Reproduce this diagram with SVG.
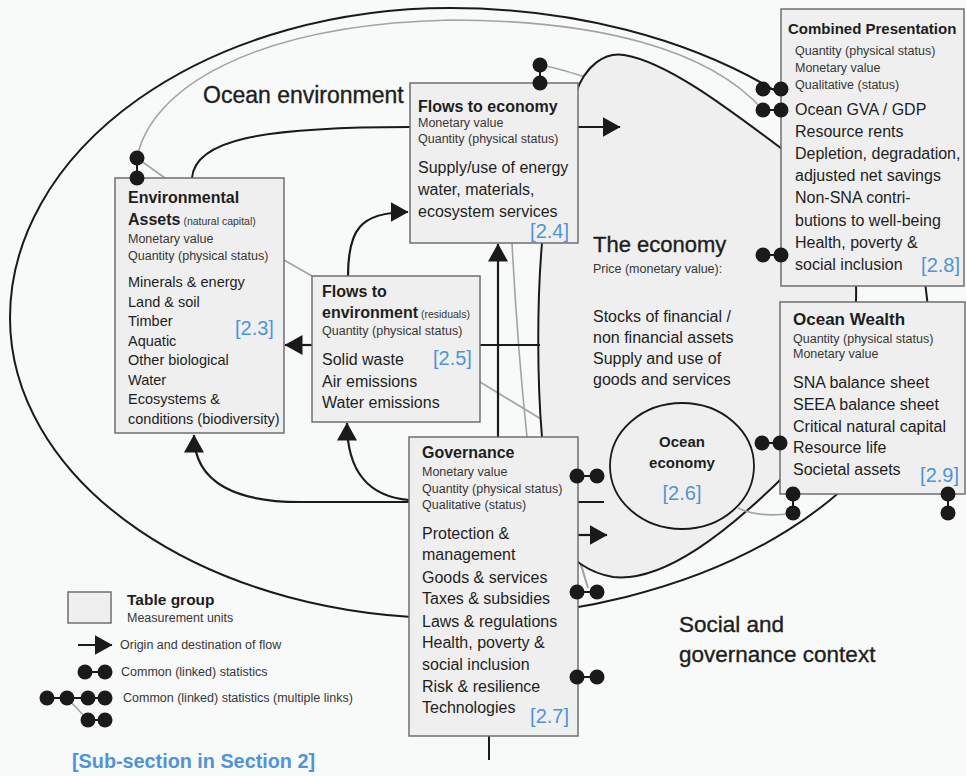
<svg xmlns="http://www.w3.org/2000/svg" width="966" height="776" viewBox="0 0 966 776">
<defs>
<marker id="arrow" markerUnits="userSpaceOnUse" markerWidth="18" markerHeight="20" refX="17.5" refY="10" orient="auto">
<path d="M0,0 L18,10 L0,20 Z" fill="#1a1a1a"/>
</marker>
<style>
text{font-family:'Liberation Sans',Arial,Helvetica,sans-serif;fill:#1e1e1e}
.box{fill:#efefef;stroke:#6f6f6f;stroke-width:1.5}
.h{font-weight:bold;font-size:16px}
.u{font-size:12.5px;fill:#363636}
.l{font-size:16px}
.s{font-size:14.5px}
.sm{font-size:10.5px;font-weight:normal;fill:#363636}
.ref{font-size:20px;fill:#4f94d6}
.big{font-size:22.5px;stroke:#1e1e1e;stroke-width:0.35}
.ln{fill:none;stroke:#1a1a1a;stroke-width:2}
.gr{fill:none;stroke:#a3a3a3;stroke-width:1.6}
.fl{fill:none;stroke:#1a1a1a;stroke-width:2.2;marker-end:url(#arrow)}
.dot{fill:#1a1a1a}
.blob{fill:#efefef;stroke:#1a1a1a;stroke-width:2}
</style>
</defs>

<rect x="0" y="0" width="966" height="776" fill="#f8f9f9"/>

<!-- ocean environment boundary -->
<path id="ocean-environment" class="ln" d="M10,318 A440,310 0 0 1 450,8 A478,310 0 0 1 928,318 A478,300 0 0 1 450,618 A440,300 0 0 1 10,318 Z"/>

<!-- links that run underneath the economy -->
<g id="hidden-links">
<path class="gr" d="M540,65 C560,68 575,74 600,82"/>
<path class="gr" d="M480,382 L574,439 L576,550 L588,588"/>
<path class="gr" d="M527,437 C545,490 568,535 580,560 L588,588"/>
</g>

<!-- the economy -->
<g id="economy">
<path class="blob" d="M542,437 C537,380 537,300 542,243 L575,95 C585,65 605,52 624,55 C668,62 730,110 790,155 C840,195 858,240 856,300 C854,380 818,445 775,485 C730,528 665,583 613,577 C590,573 570,560 558,540 C548,515 545,470 542,437 Z"/>
<text x="593" y="252" class="big" style="font-size:22px">The economy</text>
<text x="593" y="273" class="u">Price (monetary value):</text>
<text x="593" y="322" class="l">Stocks of financial /</text>
<text x="593" y="343" class="l">non financial assets</text>
<text x="593" y="364" class="l">Supply and use of</text>
<text x="593" y="385" class="l">goods and services</text>
</g>

<!-- ocean economy -->
<g id="ocean-economy">
<ellipse cx="682" cy="466" rx="72" ry="63" fill="#efefef" stroke="#1a1a1a" stroke-width="1.8"/>
<text x="682" y="447" text-anchor="middle" style="font-weight:bold;font-size:15px">Ocean</text>
<text x="682" y="468" text-anchor="middle" style="font-weight:bold;font-size:15px">economy</text>
<text x="682" y="500" text-anchor="middle" class="ref">[2.6]</text>
</g>

<!-- connectors -->
<g id="connectors">
<path class="gr" d="M137,158 C150,90 250,25 450,20 C600,20 710,50 763,110"/>
<path class="gr" d="M137,158 L165,178"/>
<path class="gr" d="M284,260 L312,276"/>
<path class="gr" d="M512,243 C516,320 521,380 527,437"/>
<path class="gr" d="M738,508 C755,516 775,516 793,513"/>
<path class="ln" d="M192,178 C195,140 260,127 410,127"/>
<path class="ln" d="M480,345 L540,345"/>
<path class="ln" d="M578,502 L604,502"/>
<path class="ln" d="M489,736 L489,760"/>
<path class="fl" d="M578,127 L620,127"/>
<path class="fl" d="M348,276 C348,230 360,212 408,212"/>
<path class="fl" d="M312,345 L285,345"/>
<path class="fl" d="M498,437 L498,244"/>
<path class="fl" d="M409,502 L300,502 C240,502 194,485 194,435"/>
<path class="fl" d="M409,500 C372,497 347,475 347,423"/>
<path class="fl" d="M578,535 L607,535"/>
</g>

<!-- table groups -->
<g id="environmental-assets">
<rect class="box" x="115" y="178" width="169" height="255"/>
<text x="128" y="203" class="h">Environmental</text>
<text x="128" y="225" class="h">Assets<tspan class="sm"> (natural capital)</tspan></text>
<text x="128" y="243" class="u">Monetary value</text>
<text x="128" y="260" class="u">Quantity (physical status)</text>
<text x="128" y="287" class="s">Minerals &amp; energy</text>
<text x="128" y="306.5" class="s">Land &amp; soil</text>
<text x="128" y="326" class="s">Timber</text>
<text x="128" y="345.5" class="s">Aquatic</text>
<text x="128" y="365" class="s">Other biological</text>
<text x="128" y="384.5" class="s">Water</text>
<text x="128" y="404" class="s">Ecosystems &amp;</text>
<text x="128" y="423.5" class="s">conditions (biodiversity)</text>
<text x="235" y="335" class="ref">[2.3]</text>
</g>

<g id="flows-to-economy">
<rect class="box" x="410" y="83" width="168" height="160"/>
<text x="418" y="112" class="h">Flows to economy</text>
<text x="418" y="127" class="u">Monetary value</text>
<text x="418" y="143" class="u">Quantity (physical status)</text>
<text x="418" y="173" class="l">Supply/use of energy</text>
<text x="418" y="195" class="l">water, materials,</text>
<text x="418" y="217" class="l">ecosystem services</text>
<text x="569" y="238" class="ref" text-anchor="end">[2.4]</text>
</g>

<g id="flows-to-environment">
<rect class="box" x="312" y="276" width="168" height="146"/>
<text x="322" y="297" class="h">Flows to</text>
<text x="322" y="318" class="h">environment<tspan class="sm"> (residuals)</tspan></text>
<text x="322" y="335" class="u">Quantity (physical status)</text>
<text x="322" y="365" class="l">Solid waste</text>
<text x="322" y="387" class="l">Air emissions</text>
<text x="322" y="408" class="l">Water emissions</text>
<text x="433" y="365" class="ref">[2.5]</text>
</g>

<g id="governance">
<rect class="box" x="409" y="437" width="169" height="299"/>
<text x="422" y="458" class="h">Governance</text>
<text x="422" y="476" class="u">Monetary value</text>
<text x="422" y="493" class="u">Quantity (physical status)</text>
<text x="422" y="509" class="u">Qualitative (status)</text>
<text x="422" y="539" class="l">Protection &amp;</text>
<text x="422" y="560" class="l">management</text>
<text x="422" y="583" class="l">Goods &amp; services</text>
<text x="422" y="604" class="l">Taxes &amp; subsidies</text>
<text x="422" y="627" class="l">Laws &amp; regulations</text>
<text x="422" y="648" class="l">Health, poverty &amp;</text>
<text x="422" y="670" class="l">social inclusion</text>
<text x="422" y="692" class="l">Risk &amp; resilience</text>
<text x="422" y="713" class="l">Technologies</text>
<text x="569" y="723" class="ref" text-anchor="end">[2.7]</text>
</g>

<g id="combined-presentation">
<rect class="box" x="781" y="9" width="183" height="277"/>
<text x="788" y="34" class="h" style="font-size:15px">Combined Presentation</text>
<text x="795" y="55" class="u">Quantity (physical status)</text>
<text x="795" y="72" class="u">Monetary value</text>
<text x="795" y="89" class="u">Qualitative (status)</text>
<text x="795" y="115" class="l">Ocean GVA / GDP</text>
<text x="795" y="137" class="l">Resource rents</text>
<text x="795" y="159" class="l">Depletion, degradation,</text>
<text x="795" y="181" class="l">adjusted net savings</text>
<text x="795" y="203" class="l">Non-SNA contri-</text>
<text x="795" y="226" class="l">butions to well-being</text>
<text x="795" y="248" class="l">Health, poverty &amp;</text>
<text x="795" y="270" class="l">social inclusion</text>
<text x="960" y="272" class="ref" text-anchor="end">[2.8]</text>
</g>

<g id="ocean-wealth">
<rect class="box" x="780" y="302" width="185" height="192"/>
<text x="793" y="325" class="h" style="font-size:17px">Ocean Wealth</text>
<text x="793" y="343" class="u">Quantity (physical status)</text>
<text x="793" y="358" class="u">Monetary value</text>
<text x="793" y="388" class="l">SNA balance sheet</text>
<text x="793" y="410" class="l">SEEA balance sheet</text>
<text x="793" y="432" class="l">Critical natural capital</text>
<text x="793" y="453" class="l">Resource life</text>
<text x="793" y="475" class="l">Societal assets</text>
<text x="959" y="482" class="ref" text-anchor="end">[2.9]</text>
</g>

<!-- common (linked) statistics -->
<g id="links">
<path class="ln" d="M137,158 L137,178"/>
<circle class="dot" cx="137" cy="158" r="7.5"/><circle class="dot" cx="137" cy="178" r="7.5"/>
<path class="ln" d="M540,65 L540,83"/>
<circle class="dot" cx="540" cy="65" r="7.5"/><circle class="dot" cx="540" cy="83" r="7.5"/>
<path class="ln" d="M763,89 L781,89 M763,110 L781,110 M763,255 L781,255"/>
<circle class="dot" cx="763" cy="89" r="7.5"/><circle class="dot" cx="781" cy="89" r="7.5"/>
<circle class="dot" cx="763" cy="110" r="7.5"/><circle class="dot" cx="781" cy="110" r="7.5"/>
<circle class="dot" cx="763" cy="255" r="7.5"/><circle class="dot" cx="781" cy="255" r="7.5"/>
<path class="ln" d="M577,476 L597,476 M577,592 L597,592 M577,677 L597,677"/>
<circle class="dot" cx="577" cy="476" r="7.5"/><circle class="dot" cx="597" cy="476" r="7.5"/>
<circle class="dot" cx="577" cy="592" r="7.5"/><circle class="dot" cx="597" cy="592" r="7.5"/>
<circle class="dot" cx="577" cy="677" r="7.5"/><circle class="dot" cx="597" cy="677" r="7.5"/>
<path class="ln" d="M762,443 L780,443"/>
<circle class="dot" cx="762" cy="443" r="7.5"/><circle class="dot" cx="780" cy="443" r="7.5"/>
<path class="ln" d="M793,494 L793,513 M948,494 L948,513"/>
<circle class="dot" cx="793" cy="494" r="7.5"/><circle class="dot" cx="793" cy="513" r="7.5"/>
<circle class="dot" cx="948" cy="494" r="7.5"/><circle class="dot" cx="948" cy="513" r="7.5"/>
</g>

<!-- context labels -->
<g id="labels">
<text x="203" y="103" class="big" style="font-size:23px">Ocean environment</text>
<text x="679" y="632" class="big">Social and</text>
<text x="679" y="662" class="big">governance context</text>
</g>

<!-- legend -->
<g id="legend">
<rect class="box" x="68" y="592" width="43" height="31"/>
<text x="127" y="605" style="font-weight:bold;font-size:15.5px">Table group</text>
<text x="127" y="622" class="u">Measurement units</text>
<path class="fl" d="M78,645 L112,645"/>
<text x="120" y="649" class="u">Origin and destination of flow</text>
<path class="ln" d="M85,672 L105,672"/>
<circle class="dot" cx="85" cy="672" r="7.5"/><circle class="dot" cx="105" cy="672" r="7.5"/>
<text x="121" y="676" class="u">Common (linked) statistics</text>
<path class="gr" d="M67,698 L88,720"/>
<path class="ln" d="M47,698 L105,698 M88,720 L105,720"/>
<circle class="dot" cx="47" cy="698" r="7.5"/><circle class="dot" cx="67" cy="698" r="7.5"/>
<circle class="dot" cx="88" cy="698" r="7.5"/><circle class="dot" cx="105" cy="698" r="7.5"/>
<circle class="dot" cx="88" cy="720" r="7.5"/><circle class="dot" cx="105" cy="720" r="7.5"/>
<text x="123" y="702" class="u">Common (linked) statistics (multiple links)</text>
<text x="72" y="768" textLength="243" lengthAdjust="spacingAndGlyphs" style="font-weight:bold;font-size:21px;fill:#4f94d6">[Sub-section in Section 2]</text>
</g>
</svg>
